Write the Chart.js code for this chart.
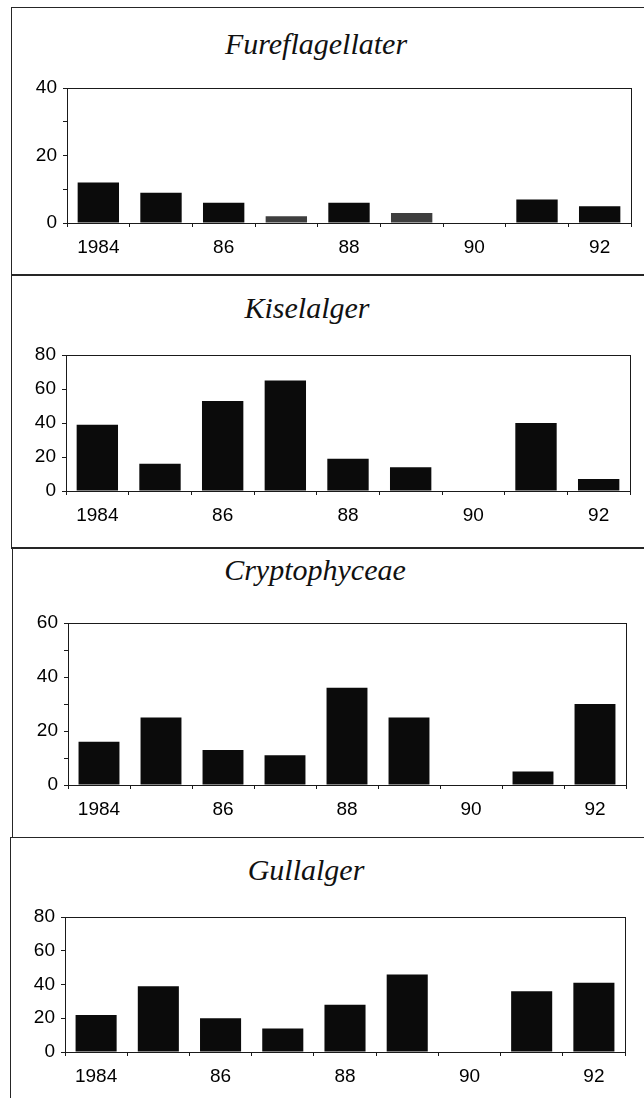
<!DOCTYPE html>
<html>
<head>
<meta charset="utf-8">
<title>Fureflagellater, Kiselalger, Cryptophyceae, Gullalger 1984-92</title>
<script src="https://cdn.jsdelivr.net/npm/chart.js@4/dist/chart.umd.min.js"></script>
<style>
  html, body { margin: 0; padding: 0; background: #fff; }
  #page { position: relative; width: 644px; height: 1098px; overflow: hidden; }
  canvas { position: absolute; left: 0; }
  .line { position: absolute; background: #262626; }
  .title {
    position: absolute; width: 320px; text-align: center;
    font: italic 30px "Liberation Serif", "DejaVu Serif", serif;
    line-height: 30px; color: #111; white-space: nowrap;
  }
</style>
</head>
<body>
<div id="page">
  <!-- frame lines between the panels -->
  <div class="line" style="left:11px; top:7px; width:633px; height:1px;"></div>
  <div class="line" style="left:11px; top:274px; width:633px; height:2px;"></div>
  <div class="line" style="left:11px; top:547px; width:633px; height:2px;"></div>
  <div class="line" style="left:10px; top:837px; width:634px; height:1px;"></div>
  <div class="line" style="left:11px; top:7px; width:1px; height:541px;"></div>
  <div class="line" style="left:12px; top:548px; width:1px; height:290px;"></div>
  <div class="line" style="left:10px; top:837px; width:1px; height:261px;"></div>

  <div class="title" id="t1"></div>
  <div class="title" id="t2"></div>
  <div class="title" id="t3"></div>
  <div class="title" id="t4"></div>

  <canvas id="c1"></canvas>
  <canvas id="c2"></canvas>
  <canvas id="c3"></canvas>
  <canvas id="c4"></canvas>
</div>

<script>
// ## data ##########################################################
const years      = ['1984', '1985', '1986', '1987', '1988', '1989', '1990', '1991', '1992'];
const yearTicks  = ['1984', '', '86', '', '88', '', '90', '', '92'];

const fureflagellater = [12, 9, 6, 2, 6, 3, 0, 7, 5];
const kiselalger      = [39, 16, 53, 65, 19, 14, 0, 40, 7];
const cryptophyceae   = [16, 25, 13, 11, 36, 25, 0, 5, 30];
const gullalger       = [22, 39, 20, 14, 28, 46, 0, 36, 41];

const yMax = [40, 80, 60, 80];

// ## helpers ##########################################################
const INK = '#1a1a1a';
const TICK_FONT = { family: '"Liberation Sans", Arial, sans-serif', size: 19 };

/** draws the closed box round the plot area (chart.js only gives left+bottom) */
const boxPlugin = {
  id: 'box',
  afterDraw(chart) {
    const a = chart.chartArea, c = chart.ctx;
    c.save();
    c.strokeStyle = INK;
    c.lineWidth = 1;
    c.strokeRect(Math.round(a.left) + 0.5, Math.round(a.top) + 0.5,
                 Math.round(a.right - a.left), Math.round(a.bottom - a.top));
    c.restore();
  }
};

/**
 * one panel: canvas spans the whole page width over [top, top+h],
 * plot box is forced to L/R/T/B (page coords) with afterFit + padding
 */
function panel(id, title, values, max, geo, colors) {
  const cv = document.getElementById(id);
  cv.width = 644;
  cv.height = geo.h;
  cv.style.top = geo.top + 'px';

  const t = document.getElementById('t' + id.slice(1));
  t.textContent = title;
  t.style.left = (geo.tx - 160) + 'px';
  t.style.top = (geo.ty - 25) + 'px';

  return new Chart(cv, {
    type: 'bar',
    data: {
      labels: years,
      datasets: [{
        data: values,
        backgroundColor: colors || '#0b0b0b',
        borderWidth: 0,
        categoryPercentage: 1,
        barPercentage: 0.66
      }]
    },
    options: {
      responsive: false,
      animation: false,
      devicePixelRatio: 1,
      layout: { padding: { top: geo.T - geo.top, right: 644 - geo.R, left: 0, bottom: 0 } },
      plugins: { legend: { display: false }, title: { display: false }, tooltip: { enabled: false } },
      scales: {
        x: {
          offset: true,
          border: { display: false },
          grid: { offset: true, drawOnChartArea: false, color: INK, tickLength: 4 },
          ticks: {
            autoSkip: false, maxRotation: 0, padding: 9, color: '#000',
            font: TICK_FONT,
            callback: (v, i) => yearTicks[i]
          },
          afterFit: s => { s.height = geo.top + geo.h - geo.B; }
        },
        y: {
          min: 0, max: max,
          border: { display: false },
          grid: { drawOnChartArea: false, color: INK, tickLength: 4 },
          ticks: {
            stepSize: 10, padding: 6, color: '#000',
            font: TICK_FONT,
            callback: v => (v % 20 === 0 ? v : '')
          },
          afterFit: s => { s.width = geo.L; }
        }
      }
    },
    plugins: [boxPlugin]
  });
}

// ## panels ##########################################################
const grey = '#3e3e3e', black = '#0b0b0b';
panel('c1', 'Fureflagellater', fureflagellater, yMax[0],
  { top: 8, h: 266, L: 67, R: 631, T: 88, B: 223, tx: 316, ty: 54 },
  [black, black, black, grey, black, grey, black, black, black]);
panel('c2', 'Kiselalger', kiselalger, yMax[1],
  { top: 276, h: 271, L: 66, R: 630, T: 355, B: 491, tx: 307, ty: 318 });
panel('c3', 'Cryptophyceae', cryptophyceae, yMax[2],
  { top: 549, h: 288, L: 68, R: 626, T: 623, B: 785, tx: 315, ty: 580 });
panel('c4', 'Gullalger', gullalger, yMax[3],
  { top: 838, h: 260, L: 65, R: 625, T: 917, B: 1052, tx: 306, ty: 880 });
</script>
</body>
</html>
